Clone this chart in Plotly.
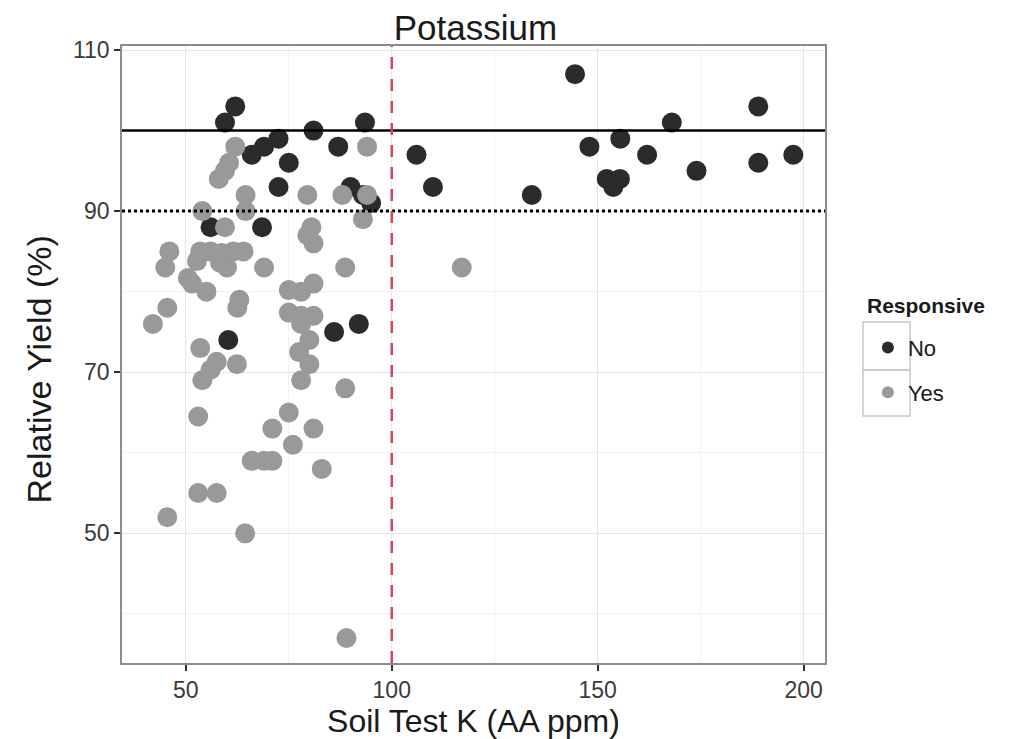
import plotly.graph_objects as go

# Non-responsive (No)
no_k = [62, 59.5, 81, 93.5, 72.5, 69, 66, 87, 75, 72.5, 90, 93, 95, 68.5, 56,
        60.3, 86, 92, 106, 110, 134, 144.5, 148, 155.5, 152.2, 155.4, 153.8,
        162, 168, 174, 189, 189, 197.5]
no_y = [103, 101, 100, 101, 99, 98, 97, 98, 96, 93, 93, 92, 91, 88, 88,
        74, 75, 76, 97, 93, 92, 107, 98, 99, 94, 94, 93,
        97, 101, 95, 103, 96, 97]

# Responsive (Yes)
yes_k = [62, 60.5, 59.5, 58, 94, 64.5, 79.5, 88, 94, 54, 64.5, 93, 59.5, 80.5,
         79.5, 81, 46, 45, 53.5, 56, 58.7, 61.5, 64, 52.7, 58.3, 60, 69, 88.7,
         50.5, 51.5, 55, 75, 78, 81, 45.5, 42, 63, 62.5, 75, 78, 81, 78, 80,
         77.5, 80, 53.5, 57.5, 56, 54, 62.4, 78, 88.7, 53, 75, 71, 81, 76, 66,
         69, 71, 83, 53, 57.5, 45.5, 64.4, 89, 117]
yes_y = [98, 96, 95, 94, 98, 92, 92, 92, 92, 90, 90, 89, 88, 88,
         87, 86, 85, 83, 85, 85, 84.8, 85, 85, 83.8, 83.6, 83, 83, 83,
         81.7, 81, 80, 80.2, 80, 81, 78, 76, 79, 78, 77.4, 77, 77, 76, 74,
         72.5, 71, 73, 71.3, 70.3, 69, 71, 69, 68, 64.5, 65, 63, 63, 61, 59,
         59, 59, 58, 55, 55, 52, 50, 37, 83]

x_ticks = [50, 100, 150, 200]
y_ticks = [50, 70, 90, 110]
target_line = 100
threshold_line = 90
critical_k = 100

FONT = "Liberation Sans, Arial, Helvetica, sans-serif"
DARK = "#2b2b2b"
GREY = "#999999"
TXT = "#1a1a1a"

fig = go.Figure()
fig.add_trace(go.Scatter(x=no_k, y=no_y, mode="markers", name="No",
                         legendgroup="no",
                         marker=dict(size=20, color=DARK, line=dict(width=0))))
fig.add_trace(go.Scatter(x=yes_k, y=yes_y, mode="markers", name="Yes",
                         legendgroup="yes",
                         marker=dict(size=20, color=GREY, line=dict(width=0))))

fig.add_hline(y=target_line, line=dict(color="black", width=2.5), layer="above")
fig.add_hline(y=threshold_line, line=dict(color="black", width=3, dash="dot"), layer="above")
fig.add_vline(x=critical_k, line=dict(color="#d0485a", width=2.5, dash="12px,10px"), layer="above")

# legend key boxes (ggplot style)
for y0, y1 in [(0.4749, 0.5527), (0.4003, 0.4749)]:
    fig.add_shape(type="rect", xref="paper", yref="paper", x0=1.054, x1=1.121,
                  y0=y0, y1=y1, line=dict(color="#c8c8c8", width=1.5),
                  fillcolor="rgba(0,0,0,0)", layer="below")

axis_common = dict(
    showline=True, linecolor="#8c8c8c", linewidth=1.5, mirror=True,
    ticks="outside", ticklen=6, tickwidth=2, tickcolor="#333333",
    tickfont=dict(size=23, color="#3a3a3a", family=FONT),
    showgrid=True, gridcolor="#e6e6e6", gridwidth=1.2,
    zeroline=False, automargin=False,
)

fig.update_layout(
    width=1028, height=739,
    margin=dict(l=122, r=203, t=46, b=76),
    paper_bgcolor="white", plot_bgcolor="white",
    font=dict(family=FONT, color=TXT),
    title=dict(text="Potassium", x=0.4625, xanchor="center", y=0.963,
               yanchor="middle", yref="container",
               font=dict(size=35, color=TXT, family=FONT)),
    xaxis=dict(range=[34.5, 205.2], tickvals=x_ticks, ticktext=[str(v) for v in x_ticks],
               title=dict(text="Soil Test K (AA ppm)", font=dict(size=32, family=FONT, color=TXT),
                          standoff=11),
               minor=dict(tickvals=[75, 125, 175], showgrid=True, gridcolor="#f2f2f2",
                          gridwidth=1, ticklen=0),
               **axis_common),
    yaxis=dict(range=[33.9, 110.5], tickvals=y_ticks, ticktext=[str(v) for v in y_ticks],
               minor=dict(tickvals=[40, 60, 80, 100], showgrid=True, gridcolor="#f2f2f2",
                          gridwidth=1, ticklen=0),
               **axis_common),
    legend=dict(x=1.061, xanchor="left", y=0.545, yanchor="top",
                font=dict(size=22, family=FONT, color=TXT),
                traceorder="grouped", tracegroupgap=13,
                bgcolor="rgba(0,0,0,0)", itemsizing="constant"),
    showlegend=True,
    annotations=[
        dict(text="Relative Yield (%)", textangle=-90, xref="paper", yref="paper",
             x=-0.1174, y=0.4765, xanchor="center", yanchor="middle", showarrow=False,
             font=dict(size=34, family=FONT, color=TXT)),
        dict(text="<b>Responsive</b>", xref="paper", yref="paper",
             x=1.0569, y=0.580, xanchor="left", yanchor="middle", showarrow=False,
             font=dict(size=21, family=FONT, color=TXT)),
    ],
)

fig.write_html("out.html")
